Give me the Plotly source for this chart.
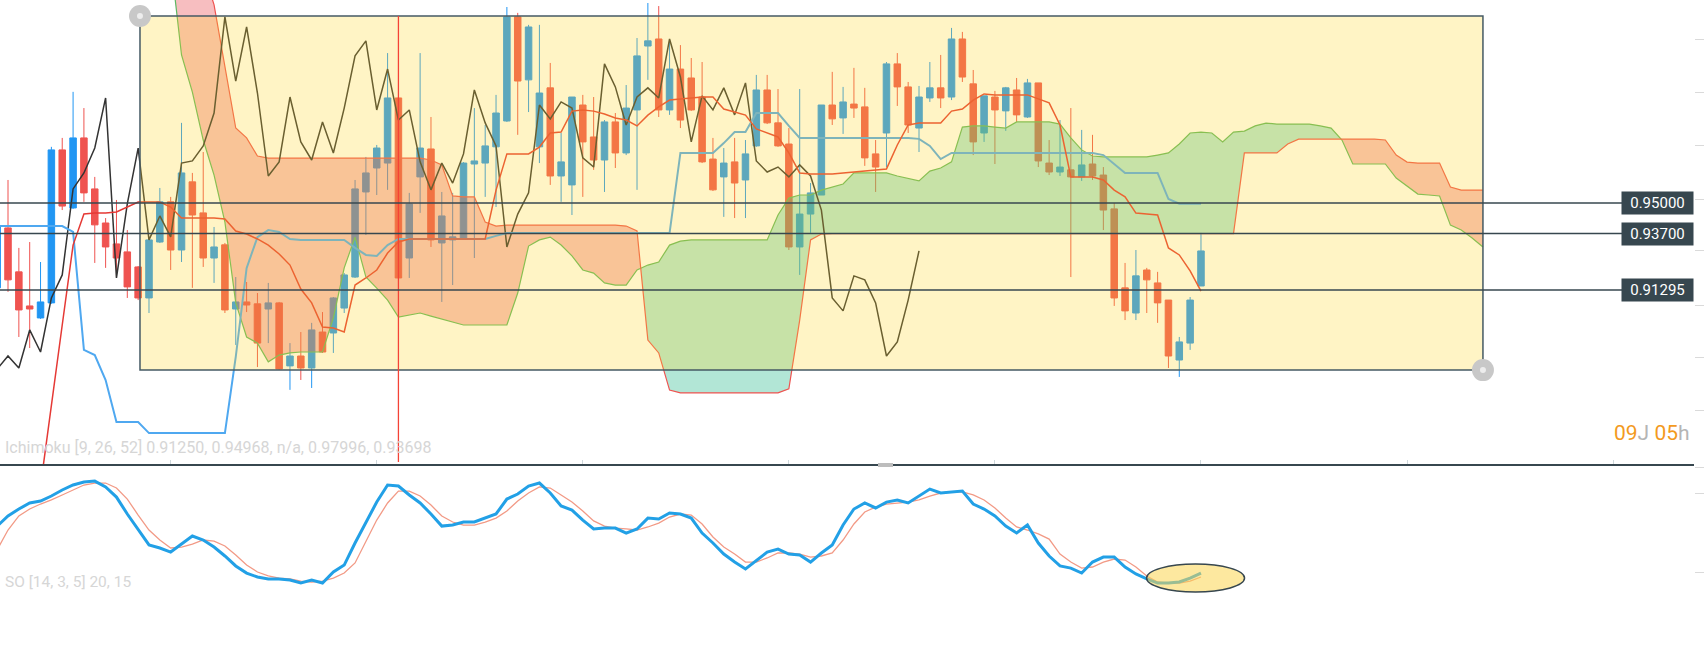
import plotly.graph_objects as go

# ── data (bar index, price) ──────────────────────────────────────────────────
bars = list(range(-1, 111))

opens = [0.9139, 0.9394, 0.9207, 0.9062, 0.9011, 0.9075, 0.9726, 0.9479, 0.9777, 0.9560,
         0.9415, 0.9326, 0.9292, 0.9228, 0.9096, 0.9334, 0.9505, 0.9300, 0.9590, 0.9458,
         0.9266, 0.9322, 0.9049, 0.9079, 0.9071, 0.9049, 0.9075, 0.8807, 0.8849, 0.8798,
         0.8951, 0.8947, 0.9053, 0.9185, 0.9547, 0.9649, 0.9670, 0.9947, 0.9266, 0.9611,
         0.9730, 0.9330, 0.9343, 0.9351, 0.9666, 0.9670, 0.9739, 0.9849, 1.0292, 1.0024,
         0.9739, 0.9990, 0.9615, 0.9577, 0.9917, 0.9781, 0.9683, 0.9845, 0.9713, 0.9896,
         1.0168, 1.0198, 0.9896, 1.0070, 1.0032, 0.9951, 0.9687, 0.9611, 0.9675, 0.9598,
         0.9743, 0.9981, 0.9841, 0.9751, 0.9313, 0.9453, 0.9534, 0.9917, 0.9862, 0.9921,
         0.9909, 0.9709, 0.9798, 1.0092, 0.9994, 0.9819, 0.9947, 0.9990, 0.9951, 1.0198,
         1.0007, 0.9798, 0.9951, 0.9892, 0.9981, 0.9866, 1.0011, 0.9670, 0.9632, 0.9641,
         0.9611, 0.9666, 0.9619, 0.9475, 0.9139, 0.9032, 0.9215, 0.9160, 0.9087, 0.8832,
         0.8904, 0.9147]
highs = [0.9407, 0.9598, 0.9309, 0.9334, 0.9249, 0.9739, 0.9777, 0.9973, 0.9904, 0.9611,
         0.9436, 0.9513, 0.9385, 0.9232, 0.9347, 0.9564, 0.9526, 0.9841, 0.9628, 0.9717,
         0.9398, 0.9330, 0.9185, 0.9164, 0.9117, 0.9160, 0.9079, 0.8904, 0.8951, 0.8990,
         0.9036, 0.9100, 0.9202, 0.9598, 0.9696, 0.9747, 1.0138, 0.9951, 0.9543, 1.0138,
         0.9866, 0.9547, 0.9543, 0.9674, 0.9904, 0.9832, 0.9960, 1.0334, 1.0309, 1.0258,
         1.0258, 1.0096, 0.9798, 0.9951, 0.9960, 0.9951, 0.9853, 0.9883, 1.0002, 1.0202,
         1.0351, 1.0338, 1.0185, 1.0172, 1.0117, 1.0100, 0.9777, 0.9734, 0.9777, 0.9768,
         1.0045, 1.0045, 0.9985, 0.9819, 0.9985, 0.9585, 0.9917, 1.0058, 0.9994, 1.0075,
         0.9990, 0.9768, 1.0100, 1.0138, 1.0015, 0.9998, 1.0100, 1.0130, 1.0245, 1.0228,
         1.0066, 0.9956, 0.9977, 0.9994, 1.0032, 1.0028, 1.0011, 0.9768, 0.9853, 0.9904,
         0.9811, 0.9790, 0.9653, 0.9500, 0.9245, 0.9300, 0.9224, 0.9207, 0.9087, 0.8930,
         0.9100, 0.9373]
lows = [0.9122, 0.9122, 0.8930, 0.8883, 0.9007, 0.9071, 0.9470, 0.9475, 0.9505, 0.9245,
        0.9224, 0.9185, 0.9096, 0.9087, 0.9032, 0.9330, 0.9215, 0.9249, 0.9139, 0.9228,
        0.9160, 0.9032, 0.8896, 0.9036, 0.8802, 0.8904, 0.8790, 0.8705, 0.8747, 0.8713,
        0.8862, 0.8862, 0.9032, 0.9181, 0.9364, 0.9534, 0.9556, 0.9177, 0.9181, 0.9458,
        0.9313, 0.9079, 0.9151, 0.9343, 0.9266, 0.9526, 0.9483, 0.9845, 0.9790, 0.9887,
        0.9670, 0.9577, 0.9505, 0.9449, 0.9526, 0.9641, 0.9547, 0.9649, 0.9704, 0.9556,
        1.0024, 0.9866, 0.9875, 0.9819, 0.9892, 0.9670, 0.9551, 0.9441, 0.9436, 0.9436,
        0.9739, 0.9836, 0.9739, 0.9300, 0.9194, 0.9373, 0.9534, 0.9832, 0.9794, 0.9862,
        0.9658, 0.9547, 0.9653, 0.9913, 0.9798, 0.9717, 0.9930, 0.9904, 0.9938, 1.0015,
        0.9704, 0.9760, 0.9666, 0.9807, 0.9845, 0.9862, 0.9653, 0.9619, 0.9615, 0.9185,
        0.9594, 0.9598, 0.9385, 0.9062, 0.9002, 0.9002, 0.9032, 0.8990, 0.8798, 0.8760,
        0.8875, 0.9147]
closes = [0.9398, 0.9173, 0.9045, 0.9049, 0.9079, 0.9726, 0.9487, 0.9777, 0.9543, 0.9407,
          0.9313, 0.9266, 0.9143, 0.9096, 0.9343, 0.9505, 0.9300, 0.9628, 0.9449, 0.9266,
          0.9313, 0.9045, 0.9079, 0.9066, 0.8904, 0.9075, 0.8794, 0.8849, 0.8798, 0.8960,
          0.8866, 0.9096, 0.9194, 0.9560, 0.9628, 0.9734, 0.9947, 0.9181, 0.9496, 0.9734,
          0.9343, 0.9445, 0.9356, 0.9670, 0.9679, 0.9743, 0.9883, 1.0292, 1.0019, 1.0249,
          0.9968, 0.9615, 0.9675, 0.9951, 0.9760, 0.9683, 0.9845, 0.9713, 0.9904, 1.0126,
          1.0190, 0.9896, 1.0070, 0.9853, 0.9896, 0.9675, 0.9556, 0.9670, 0.9585, 0.9709,
          0.9981, 0.9841, 0.9743, 0.9313, 0.9453, 0.9543, 0.9917, 0.9858, 0.9930, 0.9904,
          0.9692, 0.9653, 1.0092, 0.9994, 0.9832, 0.9951, 0.9990, 0.9947, 1.0198, 1.0036,
          0.9760, 0.9956, 0.9896, 0.9990, 0.9875, 1.0011, 0.9679, 0.9632, 0.9653, 0.9611,
          0.9662, 0.9615, 0.9470, 0.9096, 0.9041, 0.9190, 0.9173, 0.9075, 0.8849, 0.8909,
          0.9087, 0.9296]

# Ichimoku [9, 26, 52]
tenkan_bars = list(range(3, 111))
tenkan = [0.8296, 0.8649, 0.8981, 0.9321, 0.9453, 0.9457, 0.9457, 0.9462, 0.9483, 0.9504,
          0.9504, 0.9504, 0.9483, 0.9436, 0.9436, 0.9436, 0.9436, 0.9432, 0.9381, 0.9368,
          0.9347, 0.9321, 0.9283, 0.9236, 0.9134, 0.9075, 0.8972, 0.8968, 0.8951, 0.9151,
          0.9181, 0.9215, 0.9287, 0.9334, 0.9347, 0.9347, 0.9347, 0.9347, 0.9347, 0.9347,
          0.9347, 0.9347, 0.9555, 0.9709, 0.9709, 0.9709, 0.9738, 0.9798, 0.9802, 0.9891,
          0.9896, 0.9891, 0.9879, 0.9862, 0.9853, 0.9828, 0.9874, 0.9909, 0.9938, 0.9943,
          0.9947, 0.9951, 0.9951, 0.9900, 0.9887, 0.9874, 0.9815, 0.9798, 0.9781, 0.9713,
          0.9628, 0.9623, 0.9623, 0.9623, 0.9628, 0.9632, 0.9636, 0.9640, 0.9645, 0.9747,
          0.9832, 0.9840, 0.9840, 0.9840, 0.9891, 0.9900, 0.9938, 0.9964, 0.9960, 0.9960,
          0.9960, 0.9960, 0.9943, 0.9926, 0.9832, 0.9611, 0.9611, 0.9611, 0.9598, 0.9555,
          0.9526, 0.9457, 0.9453, 0.9449, 0.9309, 0.9279, 0.9211, 0.9125]
kijun = [0.9402, 0.9402, 0.9402, 0.9402, 0.9402, 0.9402, 0.9402, 0.9377, 0.8875, 0.8853,
         0.8747, 0.8568, 0.8568, 0.8568, 0.8521, 0.8521, 0.8521, 0.8521, 0.8521, 0.8521,
         0.8521, 0.8521, 0.8845, 0.9223, 0.9355, 0.9385, 0.9377, 0.9347, 0.9343, 0.9343,
         0.9343, 0.9343, 0.9343, 0.9309, 0.9279, 0.9275, 0.9321, 0.9347, 0.9347, 0.9347,
         0.9347, 0.9347, 0.9347, 0.9347, 0.9347, 0.9347, 0.9360, 0.9372, 0.9372, 0.9372,
         0.9372, 0.9372, 0.9372, 0.9372, 0.9372, 0.9372, 0.9372, 0.9372, 0.9372, 0.9372,
         0.9372, 0.9372, 0.9372, 0.9713, 0.9713, 0.9713, 0.9713, 0.9755, 0.9802, 0.9802,
         0.9883, 0.9883, 0.9883, 0.9828, 0.9777, 0.9777, 0.9777, 0.9777, 0.9777, 0.9777,
         0.9777, 0.9777, 0.9777, 0.9777, 0.9777, 0.9773, 0.9743, 0.9687, 0.9713, 0.9713,
         0.9713, 0.9713, 0.9713, 0.9713, 0.9713, 0.9713, 0.9713, 0.9713, 0.9713, 0.9713,
         0.9713, 0.9713, 0.9704, 0.9666, 0.9628, 0.9628, 0.9628, 0.9628, 0.9517, 0.9497,
         0.9497, 0.9497]

cloud_bars = list(range(15, 137))
span_a = [1.0534, 1.0130, 0.9972, 0.9768, 0.9619, 0.9419, 0.9075, 0.8930, 0.8904, 0.8824,
          0.8853, 0.8862, 0.8866, 0.8866, 0.8866, 0.9011, 0.9224, 0.9355, 0.9185, 0.9138,
          0.9087, 0.9015, 0.9023, 0.9032, 0.9019, 0.9006, 0.8994, 0.8981, 0.8981, 0.8981,
          0.8981, 0.8981, 0.9117, 0.9317, 0.9343, 0.9355, 0.9321, 0.9275, 0.9215, 0.9202,
          0.9160, 0.9151, 0.9151, 0.9215, 0.9236, 0.9249, 0.9321, 0.9338, 0.9343, 0.9343,
          0.9343, 0.9343, 0.9343, 0.9343, 0.9343, 0.9343, 0.9449, 0.9521, 0.9534, 0.9534,
          0.9555, 0.9568, 0.9581, 0.9628, 0.9628, 0.9628, 0.9628, 0.9615, 0.9606, 0.9594,
          0.9636, 0.9649, 0.9675, 0.9823, 0.9828, 0.9828, 0.9823, 0.9819, 0.9845, 0.9845,
          0.9845, 0.9845, 0.9836, 0.9777, 0.9726, 0.9700, 0.9696, 0.9696, 0.9696, 0.9696,
          0.9696, 0.9704, 0.9713, 0.9751, 0.9798, 0.9802, 0.9798, 0.9760, 0.9802, 0.9806,
          0.9828, 0.9840, 0.9836, 0.9836, 0.9836, 0.9836, 0.9828, 0.9819, 0.9768, 0.9666,
          0.9666, 0.9666, 0.9666, 0.9606, 0.9572, 0.9538, 0.9534, 0.9530, 0.9406, 0.9385,
          0.9351, 0.9313]
span_b = [1.1002, 1.0789, 1.0619, 1.0491, 1.0343, 1.0087, 0.9819, 0.9777, 0.9700, 0.9691,
          0.9691, 0.9691, 0.9691, 0.9691, 0.9691, 0.9691, 0.9691, 0.9691, 0.9691, 0.9691,
          0.9691, 0.9691, 0.9691, 0.9691, 0.9683, 0.9662, 0.9530, 0.9526, 0.9526, 0.9419,
          0.9402, 0.9406, 0.9406, 0.9406, 0.9406, 0.9406, 0.9406, 0.9406, 0.9406, 0.9406,
          0.9406, 0.9406, 0.9402, 0.9381, 0.8917, 0.8862, 0.8704, 0.8692, 0.8692, 0.8692,
          0.8692, 0.8692, 0.8692, 0.8692, 0.8692, 0.8692, 0.8692, 0.8709, 0.9002, 0.9343,
          0.9368, 0.9370, 0.9370, 0.9370, 0.9370, 0.9370, 0.9370, 0.9370, 0.9370, 0.9370,
          0.9370, 0.9370, 0.9370, 0.9370, 0.9370, 0.9370, 0.9370, 0.9370, 0.9370, 0.9370,
          0.9370, 0.9370, 0.9370, 0.9370, 0.9370, 0.9370, 0.9370, 0.9370, 0.9370, 0.9370,
          0.9370, 0.9370, 0.9370, 0.9370, 0.9370, 0.9370, 0.9370, 0.9370, 0.9370, 0.9713,
          0.9713, 0.9713, 0.9713, 0.9751, 0.9772, 0.9772, 0.9772, 0.9772, 0.9772, 0.9772,
          0.9772, 0.9772, 0.9768, 0.9704, 0.9674, 0.9670, 0.9670, 0.9670, 0.9568, 0.9555,
          0.9555, 0.9555]
CHIKOU_SHIFT = 26

# Stochastic [14, 3, 5]
stoch_k = [55.0, 62.7, 68.0, 72.6, 74.1, 77.9, 82.5, 86.3, 88.6, 89.3,
           84.8, 77.1, 64.2, 52.0, 40.6, 38.3, 35.2, 41.3, 47.4, 44.4,
           39.0, 32.2, 24.6, 19.2, 16.2, 14.7, 14.7, 13.9, 11.6, 13.9,
           11.6, 20.0, 25.3, 42.1, 58.1, 73.3, 86.3, 85.5, 78.7, 72.6,
           64.2, 55.0, 55.8, 58.1, 58.1, 61.1, 64.2, 75.6, 79.4, 85.5,
           87.8, 80.2, 70.3, 67.2, 59.6, 52.8, 53.5, 53.5, 49.7, 52.8,
           61.1, 60.4, 65.0, 64.2, 61.1, 49.7, 42.1, 33.7, 27.6, 22.3,
           29.1, 35.2, 37.5, 33.7, 33.0, 27.6, 34.5, 40.6, 55.8, 68.0,
           72.6, 68.8, 73.3, 74.9, 72.6, 77.9, 83.2, 80.2, 81.0, 81.7,
           71.8, 68.0, 62.7, 55.0, 49.7, 55.8, 42.1, 32.2, 24.6, 23.0,
           19.2, 27.6, 31.4, 31.4, 23.8, 18.5, 14.7, 11.6, 11.6, 12.4,
           15.4, 19.2]
stoch_d = [36.8, 52.0, 62.7, 68.0, 71.8, 74.9, 78.7, 82.5, 86.3, 87.8,
           87.8, 84.0, 75.6, 63.4, 52.0, 44.4, 38.3, 39.0, 41.3, 44.4,
           43.6, 39.8, 33.0, 25.3, 20.0, 17.0, 15.4, 14.7, 13.1, 12.4,
           13.1, 15.4, 19.2, 26.9, 42.9, 59.6, 72.6, 81.7, 81.7, 77.9,
           71.0, 62.7, 58.1, 55.8, 55.8, 58.1, 61.1, 66.5, 74.1, 80.2,
           84.8, 84.0, 78.7, 73.3, 66.5, 58.9, 55.0, 53.5, 52.8, 52.0,
           54.3, 57.3, 61.9, 64.2, 63.4, 56.6, 46.7, 39.0, 33.7, 27.6,
           27.6, 30.7, 34.5, 34.5, 33.7, 31.4, 32.2, 34.5, 44.4, 56.6,
           65.7, 69.5, 71.8, 72.6, 73.3, 74.9, 77.9, 80.2, 81.0, 81.0,
           78.7, 74.9, 68.8, 61.1, 54.3, 52.0, 49.0, 45.1, 33.7, 27.6,
           23.0, 23.8, 27.6, 29.9, 29.1, 23.8, 17.0, 12.4, 11.6, 11.6,
           13.1, 16.2]

# drawings / axis marks
levels = [0.95000, 0.93700, 0.91295]
level_labels = ["0.95000", "0.93700", "0.91295"]
box_left, box_right, box_top, box_bottom = 12.17, 136.0, 1.0296, 0.8789
vline_bar, vline_top, vline_bottom = 36, 1.0296, 0.8398
price_ticks = [1.0194, 0.9972, 0.9743, 0.9517, 0.9296, 0.9066, 0.8841, 0.8619]
stoch_ticks = [100, 80, 20]
time_ticks = [15, 34, 53, 72, 91, 110, 129, 148]
mark_bar, mark_value = 109.5, 15.4

UP, DOWN = "#2196F3", "#EF5350"
FONT = "Roboto"

fig = go.Figure()

fig.add_trace(go.Candlestick(
    x=bars, open=opens, high=highs, low=lows, close=closes,
    increasing=dict(line=dict(color=UP, width=1), fillcolor=UP),
    decreasing=dict(line=dict(color=DOWN, width=1), fillcolor=DOWN),
    whiskerwidth=0, hoverinfo="skip",
))


# cloud: split where span A and span B cross
def cloud_runs(xs, a, b):
    runs = []
    rx, ra, rb = [xs[0]], [a[0]], [b[0]]
    up = a[0] >= b[0]
    for k in range(1, len(xs)):
        now = a[k] >= b[k]
        if now != up:
            d0, d1 = a[k - 1] - b[k - 1], a[k] - b[k]
            t = d0 / (d0 - d1)
            xc = xs[k - 1] + t * (xs[k] - xs[k - 1])
            yc = a[k - 1] + t * (a[k] - a[k - 1])
            rx.append(xc); ra.append(yc); rb.append(yc)
            runs.append((up, rx, ra, rb))
            rx, ra, rb = [xc], [yc], [yc]
            up = now
        rx.append(xs[k]); ra.append(a[k]); rb.append(b[k])
    runs.append((up, rx, ra, rb))
    return runs


for up, rx, ra, rb in cloud_runs(cloud_bars, span_a, span_b):
    fig.add_trace(go.Scatter(
        x=rx + rx[::-1], y=ra + rb[::-1], fill="toself", mode="lines",
        fillcolor="rgba(35,184,138,0.35)" if up else "rgba(232,69,74,0.35)",
        line=dict(width=0), hoverinfo="skip",
    ))

fig.add_trace(go.Scatter(x=cloud_bars, y=span_a, mode="lines",
                         line=dict(color="#5DB761", width=1.2), hoverinfo="skip"))
fig.add_trace(go.Scatter(x=cloud_bars, y=span_b, mode="lines",
                         line=dict(color="#EF5350", width=1.2), hoverinfo="skip"))

fig.add_trace(go.Scatter(x=bars[:-CHIKOU_SHIFT], y=closes[CHIKOU_SHIFT:], mode="lines",
                         line=dict(color="#333333", width=1.5), hoverinfo="skip"))
fig.add_trace(go.Scatter(x=bars, y=kijun, mode="lines",
                         line=dict(color="#4FA8F0", width=2), hoverinfo="skip"))
fig.add_trace(go.Scatter(x=tenkan_bars, y=tenkan, mode="lines",
                         line=dict(color="#E53935", width=1.5), hoverinfo="skip"))

# stochastic panel
fig.add_trace(go.Scatter(x=bars, y=stoch_d, yaxis="y2", mode="lines",
                         line=dict(color="#F29A86", width=1.3), hoverinfo="skip"))
fig.add_trace(go.Scatter(x=bars, y=stoch_k, yaxis="y2", mode="lines",
                         line=dict(color="#22A0E6", width=3), hoverinfo="skip"))

# ── drawings ────────────────────────────────────────────────────────────────
shapes = [
    dict(type="rect", xref="x", yref="y", x0=box_left, x1=box_right, y0=box_bottom, y1=box_top,
         fillcolor="rgba(255,215,40,0.27)", line=dict(color="#455A64", width=1.5)),
    dict(type="line", xref="x", yref="y", x0=vline_bar, x1=vline_bar, y0=vline_bottom, y1=vline_top,
         line=dict(color="#F44336", width=1.3)),
]
for lv in levels:
    shapes.append(dict(type="line", xref="paper", yref="y", x0=0, x1=0.9575, y0=lv, y1=lv,
                       line=dict(color="#37474F", width=1.5)))
for hx, hy in [(box_left, box_top), (box_right, box_bottom)]:
    shapes.append(dict(type="circle", xref="x", yref="y", xsizemode="pixel", ysizemode="pixel",
                       xanchor=hx, yanchor=hy, x0=-11, x1=11, y0=-11, y1=11,
                       fillcolor="#C8C8C8", line=dict(width=0)))
    shapes.append(dict(type="circle", xref="x", yref="y", xsizemode="pixel", ysizemode="pixel",
                       xanchor=hx, yanchor=hy, x0=-3, x1=3, y0=-3, y1=3,
                       fillcolor="#EDEDED", line=dict(width=0)))
shapes.append(dict(type="circle", xref="x", yref="y2", xsizemode="pixel", ysizemode="pixel",
                   xanchor=mark_bar, yanchor=mark_value, x0=-49, x1=49, y0=-14, y1=14,
                   fillcolor="rgba(252,214,80,0.55)", line=dict(color="#37474F", width=1.5)))
shapes.append(dict(type="rect", xref="paper", yref="paper", x0=878 / 1694, x1=893 / 1694,
                   y0=181 / 648, y1=185 / 648, fillcolor="#BDBDBD", line=dict(width=0)))

annotations = []
for lv, txt in zip(levels, level_labels):
    annotations.append(dict(xref="paper", yref="y", x=1, y=lv, xanchor="right", yanchor="middle",
                            text=txt, showarrow=False, bgcolor="#37474F", width=68, height=19,
                            borderpad=1.5, font=dict(family=FONT, size=15, color="white")))
annotations += [
    dict(xref="paper", yref="paper", x=3 / 1694, y=201 / 648, xanchor="left", yanchor="middle",
         text="Ichimoku [9, 26, 52] 0.91250, 0.94968, n/a, 0.97996, 0.93698", showarrow=False,
         font=dict(family=FONT, size=16, color="#D6D6D6")),
    dict(xref="paper", yref="paper", x=3 / 1694, y=66 / 648, xanchor="left", yanchor="middle",
         text="SO [14, 3, 5] 20, 15", showarrow=False,
         font=dict(family=FONT, size=15.5, color="#D6D6D6")),
    dict(xref="paper", yref="paper", x=1692 / 1694, y=215 / 648, xanchor="right", yanchor="middle",
         text="<span style='color:#F39A1E'>09</span><span style='color:#B5B5B5'>J</span> "
              "<span style='color:#F39A1E'>05</span><span style='color:#B5B5B5'>h</span>",
         showarrow=False, font=dict(family=FONT, size=21)),
]

fig.update_layout(
    width=1705, height=648,
    margin=dict(l=0, r=11, t=0, b=0),
    paper_bgcolor="white", plot_bgcolor="white",
    showlegend=False, boxgap=0.4, boxgroupgap=0,
    shapes=shapes, annotations=annotations,
    xaxis=dict(range=[-0.738, 155.46], rangeslider=dict(visible=False), anchor="y",
               showgrid=False, zeroline=False, showticklabels=False,
               ticks="inside", tickvals=time_ticks, ticklen=4, tickcolor="#CFD8DC",
               showline=True, linecolor="#37474F", linewidth=1.5),
    yaxis=dict(domain=[184 / 648, 1], range=[0.83895, 1.03638], side="right",
               showgrid=False, zeroline=False, showticklabels=False,
               ticks="outside", tickvals=price_ticks, ticklen=9, tickcolor="#DADADA"),
    yaxis2=dict(domain=[0, 184 / 648], range=[-37.9, 102.3], side="right", anchor="x",
                showgrid=False, zeroline=False, showticklabels=False,
                ticks="outside", tickvals=stoch_ticks, ticklen=9, tickcolor="#DADADA"),
)

# the page's default body margin would push the chart 8px off the window edge
fig.write_html("out.html", config={"displayModeBar": False},
               post_script="document.body.style.margin='0px';")
